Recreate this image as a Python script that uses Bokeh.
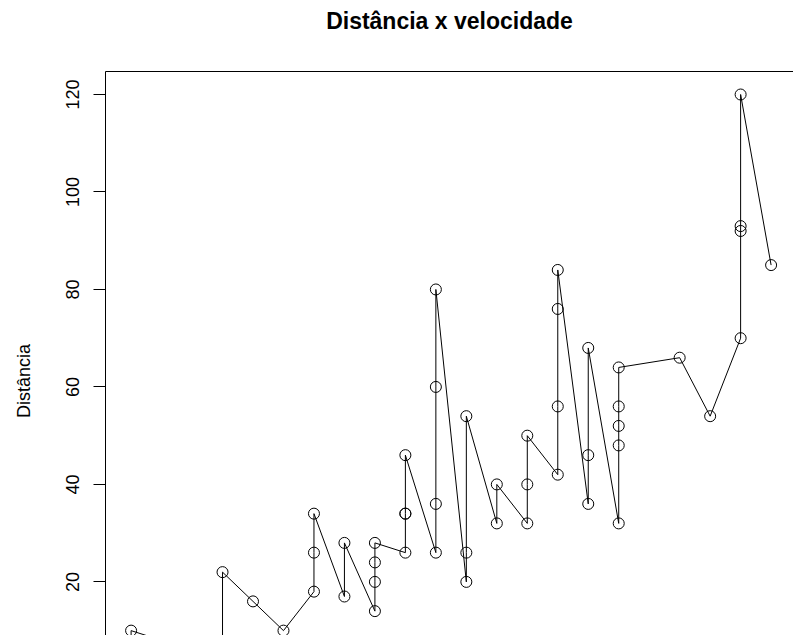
from bokeh.plotting import figure
from bokeh.models import Range1d, FixedTicker, LinearAxis
from bokeh.embed import file_html
from bokeh.resources import INLINE

velocidade = [4, 4, 7, 7, 8, 9, 10, 10, 10, 11, 11, 12, 12, 12, 12, 13, 13, 13, 13,
              14, 14, 14, 14, 15, 15, 15, 16, 16, 17, 17, 17, 18, 18, 18, 18, 19, 19,
              19, 20, 20, 20, 20, 20, 22, 23, 24, 24, 24, 24, 25]
distancia = [2, 10, 4, 22, 16, 10, 18, 26, 34, 17, 28, 14, 20, 24, 28, 26, 34, 34, 46,
             26, 36, 60, 80, 20, 26, 54, 32, 40, 32, 40, 50, 42, 56, 76, 84, 36, 46,
             68, 32, 48, 52, 56, 64, 66, 54, 70, 92, 93, 120, 85]
y_ticks = [20, 40, 60, 80, 100, 120]

# R default limits (data range extended by 4 %)
x_low = 3.16
y_high = 124.72

p = figure(width=793, height=635, output_backend="svg", toolbar_location=None,
           x_range=Range1d(x_low, 25.735), y_range=Range1d(9.0, y_high),
           x_axis_location=None, min_border_left=105, min_border_right=0,
           min_border_bottom=0, min_border_top=71)
p.outline_line_color = None
p.grid.visible = False
p.background_fill_color = "white"
p.border_fill_color = "white"

ax = p.yaxis[0]
ax.ticker = FixedTicker(ticks=y_ticks)
ax.minor_tick_line_color = None
ax.major_tick_out = 12
ax.major_tick_in = 0
ax.major_tick_line_color = "black"
ax.axis_line_color = "black"
ax.major_label_orientation = "vertical"
ax.major_label_text_font = "Liberation Sans"
ax.major_label_text_font_size = "18px"
ax.major_label_text_color = "black"
ax.major_label_standoff = 14
# trailing no-break spaces push the label down to the centre of R's full plot region
ax.axis_label = "Distância" + "\u00a0" * 11
ax.axis_label_text_font = "Liberation Sans"
ax.axis_label_text_font_size = "18px"
ax.axis_label_text_font_style = "normal"
ax.axis_label_text_color = "black"
ax.axis_label_standoff = 30

# top edge of the box, carrying the main title as its label
top = LinearAxis(ticker=FixedTicker(ticks=[]), major_tick_out=0, major_tick_in=0,
                 minor_tick_out=0, minor_tick_in=0, major_label_standoff=0,
                 axis_line_color="black", axis_label="Distância x velocidade",
                 axis_label_standoff=38, axis_label_text_font="Liberation Sans",
                 axis_label_text_font_size="23px", axis_label_text_font_style="bold",
                 axis_label_text_color="black")
p.add_layout(top, "above")

p.line(velocidade, distancia, line_color="black", line_width=1)
p.scatter(velocidade, distancia, marker="circle", size=11, fill_color=None,
          line_color="black", line_width=1)

open("out.html", "w").write(file_html(p, INLINE))
